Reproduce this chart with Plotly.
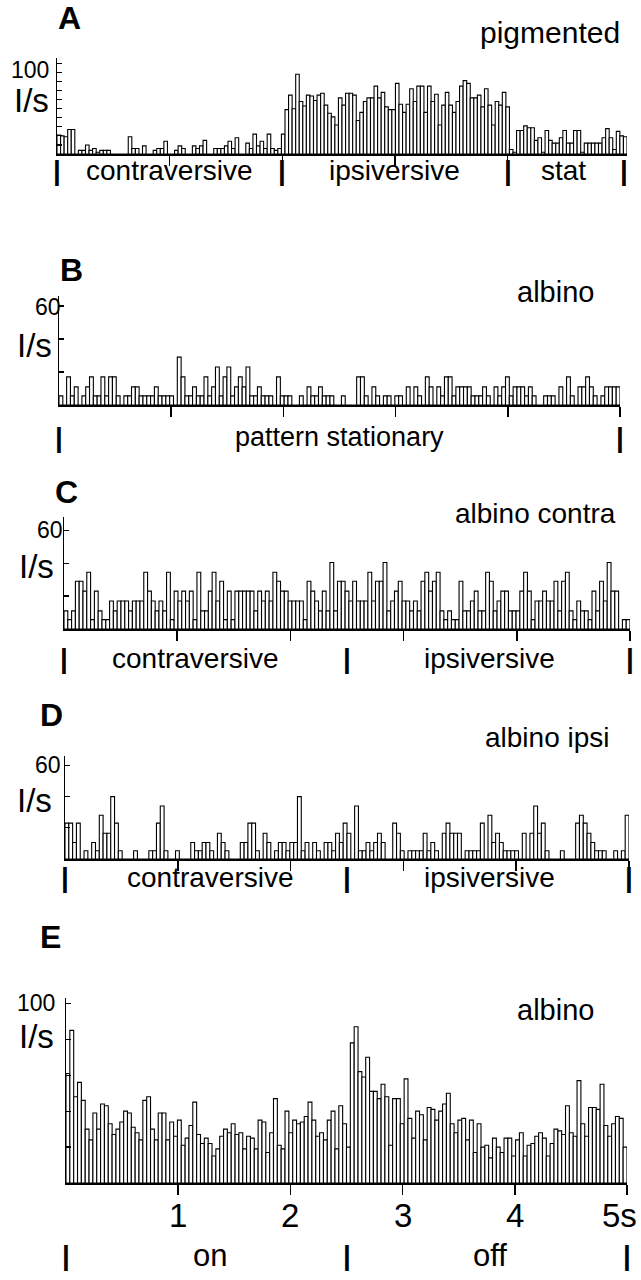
import plotly.graph_objects as go

W, H = 641, 1280
FONT = "Liberation Sans, Arial, Helvetica, sans-serif"

# ---------------- data (firing rate, I/s) ----------------
A_contra = [21, 20, 19, 27, 27, 0, 4, 4, 10, 4, 6, 2, 4, 4, 4, 0, 0, 0, 0, 0,
            19, 6, 6, 0, 9, 0, 0, 4, 6, 6, 14, 0, 0, 4, 9, 6, 0, 0, 9, 6,
            9, 15, 0, 0, 6, 6, 6, 9, 14, 6, 18, 0, 0, 12, 6, 22, 9, 14, 6, 22,
            6, 4, 6]
A_ipsi = [22, 49, 65, 50, 88, 58, 53, 65, 64, 59, 65, 67, 54, 45, 41, 32,
          62, 54, 67, 67, 65, 37, 46, 58, 62, 62, 75, 62, 68, 52, 49, 49,
          78, 55, 46, 55, 72, 58, 75, 75, 46, 75, 58, 66, 32, 54, 68, 54,
          46, 58, 75, 81, 78, 62, 62, 65, 52, 72, 54, 32, 58, 54, 68, 52]
A_stat = [5, 2, 26, 26, 31, 29, 29, 15, 18, 2, 26, 15, 12, 12, 18, 26, 12,
          12, 26, 26, 2, 12, 12, 12, 12, 12, 18, 28, 18, 5, 25, 20, 19]
A_values = A_contra + A_ipsi + A_stat

B_values = [5.5, 0, 17, 5.5, 11, 0, 5.5, 11, 17, 5.5,
            5.5, 17, 5.5, 17, 17, 5.5, 0, 5.5, 5.5, 11,
            11, 5.5, 5.5, 5.5, 5.5, 11, 5.5, 5.5, 5.5, 5.5,
            0, 29, 17, 5.5, 5.5, 11, 5.5, 5.5, 17, 5.5,
            11, 23, 5.5, 17, 23, 5.5, 11, 17, 11, 23,
            5.5, 5.5, 11, 5.5, 5.5, 5.5, 0, 17, 5.5, 5.5,
            5.5, 0, 0, 5.5, 0, 11, 5.5, 5.5, 11, 5.5,
            5.5, 5.5, 0, 0, 5.5,
            0, 0, 0, 17, 17, 5.5, 0, 11, 5.5, 0,
            5.5, 5.5, 0, 5.5, 5.5, 0, 11, 0, 11, 5.5,
            0, 17, 11, 0, 11, 5.5, 17, 17, 5.5, 11,
            11, 11, 11, 5.5, 5.5, 5.5, 11, 5.5, 0, 11,
            5.5, 11, 17, 5.5, 11, 11, 11, 5.5, 11, 5.5,
            0, 0, 5.5, 5.5, 5.5, 0, 11, 0, 17, 5.5,
            0, 11, 11, 17, 11, 5.5, 0, 5.5, 11, 11,
            11, 11]

C_values = [11, 5.7, 11, 29, 29, 23, 34.5, 5.7, 23, 11,
            5.7, 5.7, 17, 11, 17, 17, 17, 11, 17, 17,
            17, 34.5, 23, 17, 11, 17, 11, 34.5, 5.7, 23,
            17, 23, 17, 23, 5.7, 34.5, 11, 11, 23, 34.5,
            17, 29, 5.7, 23, 5.7, 23, 23, 23, 23, 23,
            11, 23, 17, 23, 17, 34.5, 29, 23, 23, 17,
            17, 17, 17, 5.7, 29, 23, 17, 11, 23, 11,
            40.4, 11, 29, 29, 23, 17, 29,
            17, 17, 17, 34.5, 17, 29, 29, 40.4, 11, 17,
            23, 29, 17, 17, 11, 17, 11, 29, 34.5, 23,
            29, 34.5, 11, 5.7, 11, 5.7, 5.7, 29, 11, 11,
            17, 23, 11, 11, 34.5, 29, 11, 17, 23, 23,
            11, 11, 11, 23, 34.5, 23, 5.7, 17, 17, 23,
            17, 17, 29, 11, 29, 34.5, 11, 5.7, 17, 11,
            11, 5.7, 23, 11, 29, 17, 40.4, 23, 23, 0,
            5.7, 5.7]

D_values = [23, 23, 10.6, 23, 0, 5.3, 0, 10.6, 5.3, 28,
            16.5, 16.5, 40, 23, 5.3, 0, 0, 0, 5.3, 0,
            0, 0, 5.3, 5.3, 23, 34, 5.3, 0, 0, 5.3,
            0, 0, 0, 10.6, 5.3, 5.3, 10.6, 10.6, 5.3, 0,
            16.5, 10.6, 5.3, 0, 0, 0, 10.6, 10.6, 23, 23,
            5.3, 0, 16.5, 10.6, 0, 5.3, 10.6, 10.6, 5.3, 10.6,
            10.6, 40, 5.3, 10.6, 0, 10.6, 5.3, 0, 10.6, 10.6,
            5.3,
            16.5, 10.6, 23, 16.5, 0, 34, 5.3, 5.3, 10.6, 5.3,
            10.6, 16.5, 10.6, 0, 0, 23, 16.5, 5.3, 0, 5.3,
            5.3, 5.3, 5.3, 16.5, 5.3, 10.6, 5.3, 0, 16.5, 23,
            16.5, 16.5, 16.5, 0, 5.3, 5.3, 5.3, 5.3, 23, 0,
            28, 10.6, 16.5, 10.6, 5.3, 5.3, 5.3, 5.3, 0, 16.5,
            0, 16.5, 34, 16.5, 23, 5.3, 0, 0, 0, 5.3,
            0, 0, 0, 23, 28, 23, 16.5, 10.6, 5.3, 5.3,
            5.3, 0, 0, 5.3, 0, 5.3, 28]

E_values = [61, 85, 48, 56, 46, 30, 24, 39, 30, 44,
            43, 33, 27, 30, 34, 40, 39, 31, 28, 24,
            46, 48, 30, 24, 39, 39, 24, 34, 26, 35,
            21, 25, 32, 45, 27, 22, 25, 22, 15, 19,
            26, 30, 28, 33, 27, 28, 19, 26, 25, 19,
            35, 34, 17, 28, 47, 21, 19, 40, 28, 35,
            33, 34, 37, 45, 35, 26, 28, 24, 35, 40,
            19, 43, 33,
            20, 78, 87, 62, 59, 70, 51, 51, 47, 55,
            48, 21, 47, 47, 33, 58, 36, 25, 40, 38,
            24, 42, 41, 35, 40, 44, 50, 33, 28, 35,
            36, 24, 35, 17, 33, 20, 21, 14, 25, 20,
            17, 25, 25, 15, 24, 28, 15, 21, 22, 26,
            28, 25, 15, 22, 30, 29, 27, 43, 28, 26,
            57, 33, 26, 42, 42, 41, 55, 32, 26, 33,
            37, 36, 20]

# tick labels / texts
E_tick_vals = [1, 2, 3, 4, 5]
E_tick_text = ["1", "2", "3", "4", "5s"]

# ---------------- layout description (pixels) ----------------
panels = [
    dict(vals=A_values, dur=5.06, x0=57, x1=627, ybase=154, ytop=58, ymax=106,
         yticks=list(range(0, 101, 10)), xticks=[1, 2, 3, 4],
         letter="A", letter_xy=(69, 18), title="pigmented", title_xy=(622, 33),
         title_size=30,
         ytop_label="100", ytop_xy=(30, 70), unit_xy=(31, 101),
         row_y=170, bars_at=[0, 2, 4, 5.03], sec_size=28,
         sections=[("contraversive", 1.0), ("ipsiversive", 3.0), ("stat", 4.5)]),
    dict(vals=B_values, dur=5.0, x0=59, x1=620, ybase=405, ytop=296, ymax=66,
         yticks=[20, 40, 60], xticks=[1, 2, 3, 4, 5],
         letter="B", letter_xy=(71, 270), title="albino", title_xy=(596, 292),
         title_size=29,
         ytop_label="60", ytop_xy=(48, 307), unit_xy=(34, 346),
         row_y=437, bars_at=[0, 5], sec_size=27,
         sections=[("pattern stationary", 2.5)]),
    dict(vals=C_values, dur=5.0, x0=64, x1=630, ybase=629, ytop=517, ymax=68,
         yticks=[20, 40, 60], xticks=[1, 2, 3, 4, 5],
         letter="C", letter_xy=(66, 492), title="albino contra", title_xy=(618, 513),
         title_size=28,
         ytop_label="60", ytop_xy=(50, 530), unit_xy=(36, 566),
         row_y=658, bars_at=[0, 2.5, 5], sec_size=28,
         sections=[("contraversive", 1.16), ("ipsiversive", 3.76)]),
    dict(vals=D_values, dur=5.0, x0=65, x1=629, ybase=859, ytop=756, ymax=66,
         yticks=[20, 40, 60], xticks=[1, 2, 3, 4, 5],
         letter="D", letter_xy=(51, 715), title="albino ipsi", title_xy=(612, 737),
         title_size=28,
         ytop_label="60", ytop_xy=(48, 765), unit_xy=(34, 800),
         row_y=877, bars_at=[0, 2.5, 5], sec_size=28,
         sections=[("contraversive", 1.29), ("ipsiversive", 3.76)]),
    dict(vals=E_values, dur=5.0, x0=66, x1=627, ybase=1183, ytop=998, ymax=103,
         yticks=[20, 40, 60, 80, 100], xticks=E_tick_vals,
         letter="E", letter_xy=(50, 937), title="albino", title_xy=(596, 1010),
         title_size=29,
         ytop_label="100", ytop_xy=(36, 1003), unit_xy=(36, 1036),
         row_y=1255, bars_at=[0, 2.5, 5], sec_size=31,
         sections=[("on", 1.28), ("off", 3.78)]),
]

fig = go.Figure()
annotations = []
layout = {}

for k, p in enumerate(panels):
    n = k + 1
    xname = "x" if n == 1 else f"x{n}"
    yname = "y" if n == 1 else f"y{n}"
    xkey = "xaxis" if n == 1 else f"xaxis{n}"
    ykey = "yaxis" if n == 1 else f"yaxis{n}"
    vals = p["vals"]
    N = len(vals)
    bw = p["dur"] / N
    xs = [(i + 0.5) * bw for i in range(N)]
    fig.add_trace(go.Bar(
        x=xs, y=vals, width=[bw] * N, xaxis=xname, yaxis=yname,
        marker=dict(color="white", line=dict(color="black", width=1.1)),
        showlegend=False, hoverinfo="skip"))
    layout[xkey] = dict(
        domain=[p["x0"] / W, p["x1"] / W], range=[0, N * bw], anchor=yname,
        showline=True, linecolor="black", linewidth=1.5, mirror=False,
        ticks="outside", tickvals=p["xticks"], ticklen=10, tickwidth=1.5,
        tickcolor="black", showticklabels=False, showgrid=False, zeroline=False,
        fixedrange=True)
    layout[ykey] = dict(
        domain=[1 - p["ybase"] / H, 1 - p["ytop"] / H], range=[0, p["ymax"]],
        anchor=xname, showline=True, linecolor="black", linewidth=1.5,
        ticks="inside", tickvals=p["yticks"], ticklen=5, tickwidth=1.2,
        tickcolor="black", showticklabels=False, showgrid=False, zeroline=False,
        fixedrange=True)

    # panel letter
    lx, ly = p["letter_xy"]
    annotations.append(dict(x=lx / W, y=1 - ly / H, xref="paper", yref="paper",
                            text=f"<b>{p['letter']}</b>", showarrow=False,
                            font=dict(family=FONT, size=32, color="black"),
                            xanchor="center", yanchor="middle"))
    # title
    tx, ty = p["title_xy"]
    annotations.append(dict(x=tx / W, y=1 - ty / H, xref="paper", yref="paper",
                            text=p["title"], showarrow=False,
                            font=dict(family=FONT, size=p["title_size"], color="black"),
                            xanchor="right", yanchor="middle"))
    # y labels
    ux, uy = p["ytop_xy"]
    annotations.append(dict(x=ux / W, y=1 - uy / H, xref="paper", yref="paper",
                            text=p["ytop_label"], showarrow=False,
                            font=dict(family=FONT, size=23, color="black"),
                            xanchor="center", yanchor="middle"))
    vx, vy = p["unit_xy"]
    annotations.append(dict(x=vx / W, y=1 - vy / H, xref="paper", yref="paper",
                            text="I/s", showarrow=False,
                            font=dict(family=FONT, size=33, color="black"),
                            xanchor="center", yanchor="middle"))
    # section row
    row = 1 - p["row_y"] / H
    for bx in p["bars_at"]:
        annotations.append(dict(x=bx, y=row, xref=xname, yref="paper",
                                text="<b>|</b>", showarrow=False,
                                font=dict(family=FONT, size=28, color="black"),
                                xanchor="center", yanchor="middle"))
    for label, sx in p["sections"]:
        annotations.append(dict(x=sx, y=row, xref=xname, yref="paper",
                                text=label, showarrow=False,
                                font=dict(family=FONT, size=p["sec_size"], color="black"),
                                xanchor="center", yanchor="middle"))

# E tick labels
for v, t in zip(E_tick_vals, E_tick_text):
    if t.endswith("s"):
        annotations.append(dict(x=639 / W, y=1 - 1215 / H, xref="paper", yref="paper",
                                text=t, showarrow=False,
                                font=dict(family=FONT, size=33, color="black"),
                                xanchor="right", yanchor="middle"))
    else:
        annotations.append(dict(x=v, y=1 - 1215 / H, xref="x5", yref="paper",
                                text=t, showarrow=False,
                                font=dict(family=FONT, size=33, color="black"),
                                xanchor="center", yanchor="middle"))

fig.update_layout(
    width=W, height=H, margin=dict(l=0, r=0, t=0, b=0),
    paper_bgcolor="white", plot_bgcolor="white",
    bargap=0, annotations=annotations, **layout)

fig.write_html("out.html",
               config={"displayModeBar": False, "staticPlot": True},
               post_script="document.body.style.margin='0';"
                           "document.body.style.overflow='hidden';")
